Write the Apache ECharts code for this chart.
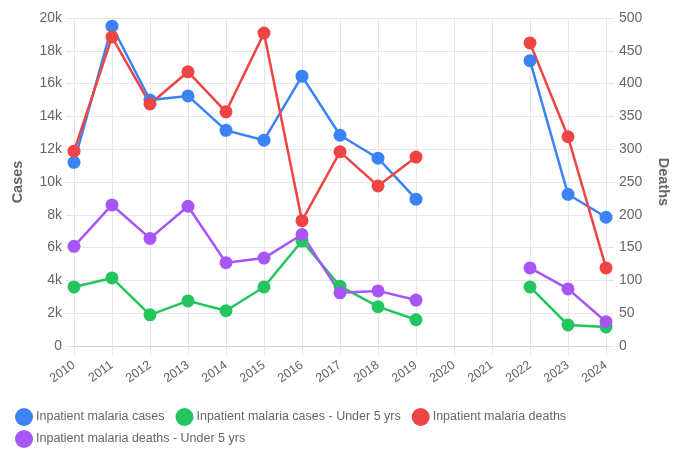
<!DOCTYPE html>
<html lang="en">
<head>
  <meta charset="UTF-8">
  <title>Inpatient malaria</title>
  <style>
    html, body { margin: 0; padding: 0; background: #fff; }
    #chart { width: 678px; height: 449px; }
  </style>
</head>
<body>
  <div id="chart"></div>
  <script src="https://cdn.jsdelivr.net/npm/echarts@6/dist/echarts.min.js"></script>
  <script>
    const years = ['2010', '2011', '2012', '2013', '2014', '2015', '2016', '2017', '2018', '2019', '2020', '2021', '2022', '2023', '2024'];
    // left axis (cases)
    const casesAll = [11200, 19500, 15000, 15250, 13150, 12550, 16450, 12850, 11450, 8950, null, null, 17400, 9250, 7850];
    const casesUnder5 = [3600, 4150, 1900, 2750, 2150, 3600, 6400, 3650, 2400, 1600, null, null, 3600, 1280, 1160];
    // right axis (deaths)
    const deathsAll = [297, 471, 369, 418, 357, 477, 191, 296, 244, 288, null, null, 462, 319, 119];
    const deathsUnder5 = [152, 215, 164, 213, 127, 134, 170, 81, 84, 70, null, null, 119, 87, 37];

    const textColor = '#666';
    const gridColor = '#e6e6ea';
    const font = 'Liberation Sans, Arial, sans-serif';

    const chart = echarts.init(document.getElementById('chart'));

    const makeLine = (name, data, color, axis) => ({
      name,
      type: 'line',
      yAxisIndex: axis,
      data,
      connectNulls: false,
      symbol: 'circle',
      symbolSize: 13,
      showSymbol: true,
      itemStyle: { color },
      lineStyle: { color, width: 2.5 },
      emphasis: { disabled: true },
    });

    chart.setOption({
      animation: false,
      textStyle: { fontFamily: font },
      grid: { left: 74, right: 68, top: 18, bottom: 103 },
      legend: {
        left: 10,
        top: 403,
        icon: 'circle',
        itemWidth: 20,
        itemHeight: 18,
        itemGap: 4,
        itemStyle: { borderWidth: 0 },
        // two trailing spaces widen the gap between items without adding row spacing
        formatter: name => name + '  ',
        textStyle: { color: textColor, fontSize: 12.5, fontFamily: font, padding: [0, 0, 0, -3] },
      },
      xAxis: {
        type: 'category',
        data: years,
        boundaryGap: false,
        axisLine: { lineStyle: { color: '#d4d4d8' } },
        axisTick: { show: true, length: 9, lineStyle: { color: gridColor } },
        axisLabel: { rotate: 35, color: textColor, fontSize: 12.5, margin: 18 },
        splitLine: { show: true, lineStyle: { color: gridColor } },
      },
      yAxis: [
        {
          type: 'value',
          min: 0, max: 20000, interval: 2000,
          name: 'Cases',
          nameLocation: 'middle',
          nameGap: 49,
          nameRotate: 90,
          nameTextStyle: { color: textColor, fontSize: 14.5, fontWeight: 'bold' },
          axisLine: { show: true, lineStyle: { color: gridColor } },
          axisTick: { show: true, length: 8, lineStyle: { color: gridColor } },
          axisLabel: {
            color: textColor, fontSize: 14, margin: 12,
            formatter: v => v === 0 ? '0' : (v / 1000) + 'k',
          },
          splitLine: { lineStyle: { color: gridColor } },
        },
        {
          type: 'value',
          min: 0, max: 500, interval: 50,
          name: 'Deaths',
          nameLocation: 'middle',
          nameGap: 49,
          nameRotate: -90,
          nameTextStyle: { color: textColor, fontSize: 14.5, fontWeight: 'bold' },
          axisLine: { show: true, lineStyle: { color: gridColor } },
          axisTick: { show: true, length: 8, lineStyle: { color: gridColor } },
          axisLabel: { color: textColor, fontSize: 14, margin: 13 },
          splitLine: { show: false },
        },
      ],
      series: [
        makeLine('Inpatient malaria cases', casesAll, '#3b82f6', 0),
        makeLine('Inpatient malaria cases - Under 5 yrs', casesUnder5, '#22c55e', 0),
        makeLine('Inpatient malaria deaths', deathsAll, '#ef4444', 1),
        makeLine('Inpatient malaria deaths - Under 5 yrs', deathsUnder5, '#a855f7', 1),
      ],
    });
  </script>
</body>
</html>
